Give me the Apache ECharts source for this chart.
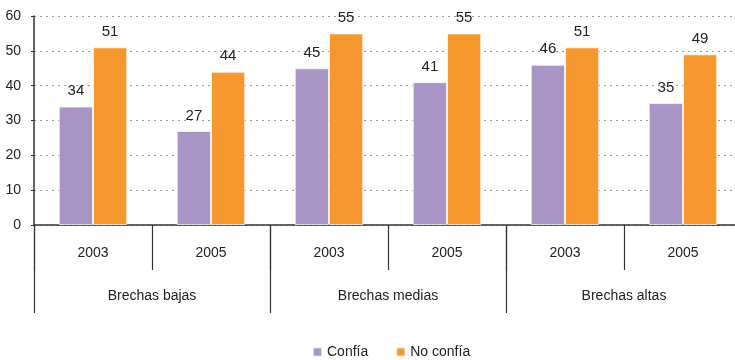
<!DOCTYPE html>
<html>
<head>
<meta charset="utf-8">
<script src="https://cdn.jsdelivr.net/npm/echarts@6/dist/echarts.min.js"></script>
<style>
  html, body { margin: 0; padding: 0; background: #fff; overflow: hidden; }
  #chart { width: 742px; height: 360px; }
</style>
</head>
<body>
<div id="chart"></div>
<script>
// Confidence by gap level and year
const years = ['2003', '2005', '2003', '2005', '2003', '2005'];
const groups = ['Brechas bajas', 'Brechas medias', 'Brechas altas'];
const confia = [34, 27, 45, 41, 46, 35];
const noConfia = [51, 44, 55, 55, 51, 49];
const yTicks = { min: 0, max: 60, interval: 10 };

const font = '"Liberation Sans", Arial, sans-serif';
const textColor = '#222';
const axisColor = '#333';
const fontSize = 14;

const chart = echarts.init(document.getElementById('chart'));

function barSeries(name, data, color) {
  return {
    name: name,
    type: 'bar',
    xAxisIndex: 0,
    data: data,
    barGap: '0%',
    barCategoryGap: '42%',
    itemStyle: { color: color, borderColor: 'rgba(255,255,255,0.7)', borderWidth: 1 },
    label: {
      show: true,
      position: 'top',
      distance: 8,
      color: textColor,
      fontFamily: font,
      fontSize: 15
    },
    emphasis: { disabled: true }
  };
}

chart.setOption({
  animation: false,
  textStyle: { fontFamily: font },
  grid: { left: 34, right: 0, top: 16, bottom: 135, containLabel: false },
  legend: {
    top: 340,
    left: 307,
    padding: 5,
    itemWidth: 9,
    itemHeight: 9,
    itemGap: 27,
    icon: 'rect',
    textStyle: { color: textColor, fontSize: fontSize, fontFamily: font },
    data: ['Confía', 'No confía']
  },
  xAxis: [
    {
      type: 'category',
      data: years,
      position: 'bottom',
      axisLine: { show: true, lineStyle: { color: axisColor, width: 1.5 } },
      axisTick: { show: true, interval: 0, length: 45, lineStyle: { color: axisColor, width: 1.2 } },
      axisLabel: { interval: 0, margin: 21, color: textColor, fontSize: fontSize, fontFamily: font },
      splitLine: { show: false }
    },
    {
      type: 'category',
      data: groups,
      position: 'bottom',
      axisLine: { show: false },
      axisTick: { show: true, interval: 0, length: 88, lineStyle: { color: axisColor, width: 1.2 } },
      axisLabel: { interval: 0, margin: 64, color: textColor, fontSize: fontSize, fontFamily: font },
      splitLine: { show: false }
    }
  ],
  yAxis: {
    type: 'value',
    min: yTicks.min,
    max: yTicks.max,
    interval: yTicks.interval,
    axisLine: { show: true, lineStyle: { color: axisColor, width: 1.5 } },
    axisTick: { show: true, length: 3, lineStyle: { color: axisColor } },
    axisLabel: { margin: 13, color: textColor, fontSize: fontSize, fontFamily: font },
    splitLine: { show: true, lineStyle: { color: '#999', type: [2, 4], width: 1.2 } }
  },
  series: [
    barSeries('Confía', confia, '#a994c6'),
    barSeries('No confía', noConfia, '#f7982f')
  ]
});
</script>
</body>
</html>
